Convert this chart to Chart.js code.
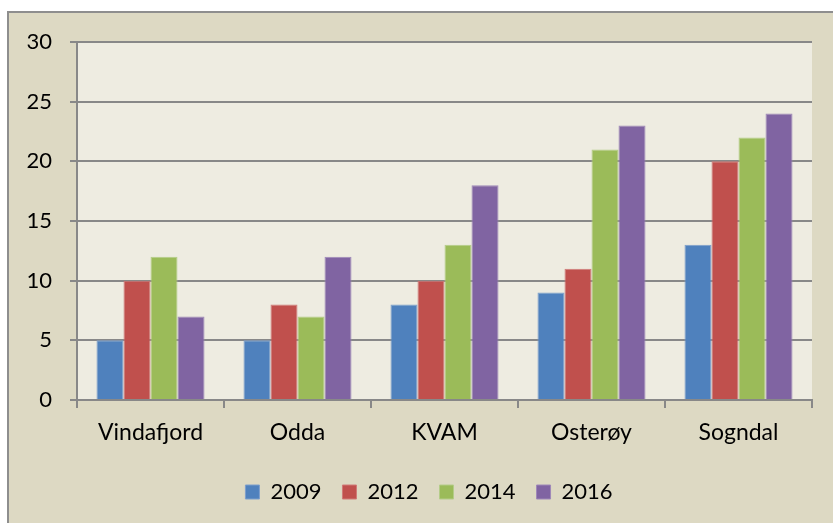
<!DOCTYPE html>
<html>
<head>
<meta charset="utf-8">
<script src="https://cdn.jsdelivr.net/npm/chart.js@4"></script>
<style>
html,body{margin:0;padding:0;background:#fff;}
#wrap{width:833px;height:523px;position:relative;}
</style>
</head>
<body>
<div id="wrap"><canvas id="c" width="833" height="523"></canvas></div>
<script>
const categories = ["Vindafjord", "Odda", "KVAM", "Osterøy", "Sogndal"];
const seriesNames = ["2009", "2012", "2014", "2016"];
const values2009 = [5, 5, 8, 9, 13];
const values2012 = [10, 8, 10, 11, 20];
const values2014 = [12, 7, 13, 21, 22];
const values2016 = [7, 12, 18, 23, 24];
const yTicks = [0, 5, 10, 15, 20, 25, 30];

const colors = ["#4f81bd", "#c0504d", "#9bbb59", "#8064a2"];
const borders = ["#7d9fcc", "#d07a78", "#b4cc88", "#9e88b8"];
const allValues = [values2009, values2012, values2014, values2016];

const bgPlugin = {
  id: 'bg',
  afterLayout(chart) {
    if (chart.legend) {
      chart.legend.left += 23;
      chart.legend.right += 23;
    }
  },
  beforeDraw(chart) {
    const ctx = chart.ctx;
    const a = chart.chartArea;
    ctx.save();
    ctx.fillStyle = '#ffffff';
    ctx.fillRect(0, 0, chart.width, chart.height);
    ctx.fillStyle = '#ddd9c3';
    ctx.fillRect(8, 12, chart.width, chart.height);
    ctx.strokeStyle = '#8e8e8e';
    ctx.lineWidth = 2;
    ctx.beginPath();
    ctx.moveTo(8, chart.height + 5);
    ctx.lineTo(8, 12);
    ctx.lineTo(chart.width + 5, 12);
    ctx.stroke();
    ctx.fillStyle = '#eeece1';
    ctx.fillRect(a.left, a.top, a.right - a.left, a.bottom - a.top);
    ctx.restore();
  }
};

Chart.defaults.font.family = "Lato, 'Open Sans', sans-serif";
Chart.defaults.color = '#000';

new Chart(document.getElementById('c'), {
  type: 'bar',
  data: {
    labels: categories,
    datasets: seriesNames.map((n, i) => ({
      label: n,
      data: allValues[i],
      backgroundColor: colors[i],
      borderColor: borders[i],
      borderWidth: 1,
      categoryPercentage: 0.735,
      barPercentage: 1.0
    }))
  },
  options: {
    responsive: false,
    animation: false,
    devicePixelRatio: 1,
    layout: { padding: { left: 0, top: 42, right: 21, bottom: 10 } },
    plugins: {
      tooltip: { enabled: false },
      legend: {
        position: 'bottom',
        labels: {
          boxWidth: 14,
          boxHeight: 14,
          padding: 21,
          font: { size: 22 },
          color: '#000'
        }
      }
    },
    scales: {
      x: {
        grid: {
          display: true,
          drawOnChartArea: false,
          drawTicks: true,
          tickLength: 8,
          color: '#888',
          lineWidth: 2,
          offset: true
        },
        border: { display: true, color: '#888', width: 2 },
        ticks: { font: { size: 23 }, padding: 11, color: '#000' },
        afterFit(scale) { scale.height = 60; }
      },
      y: {
        min: 0,
        max: 30,
        afterBuildTicks(scale) { scale.ticks = yTicks.map(v => ({ value: v })); },
        grid: {
          color: '#888',
          lineWidth: 2,
          tickLength: 7,
          drawTicks: true
        },
        border: { display: true, color: '#888', width: 2 },
        ticks: { font: { size: 22 }, padding: 18, color: '#000' },
        afterFit(scale) { scale.width = 77; }
      }
    }
  },
  plugins: [bgPlugin]
});
</script>
</body>
</html>
